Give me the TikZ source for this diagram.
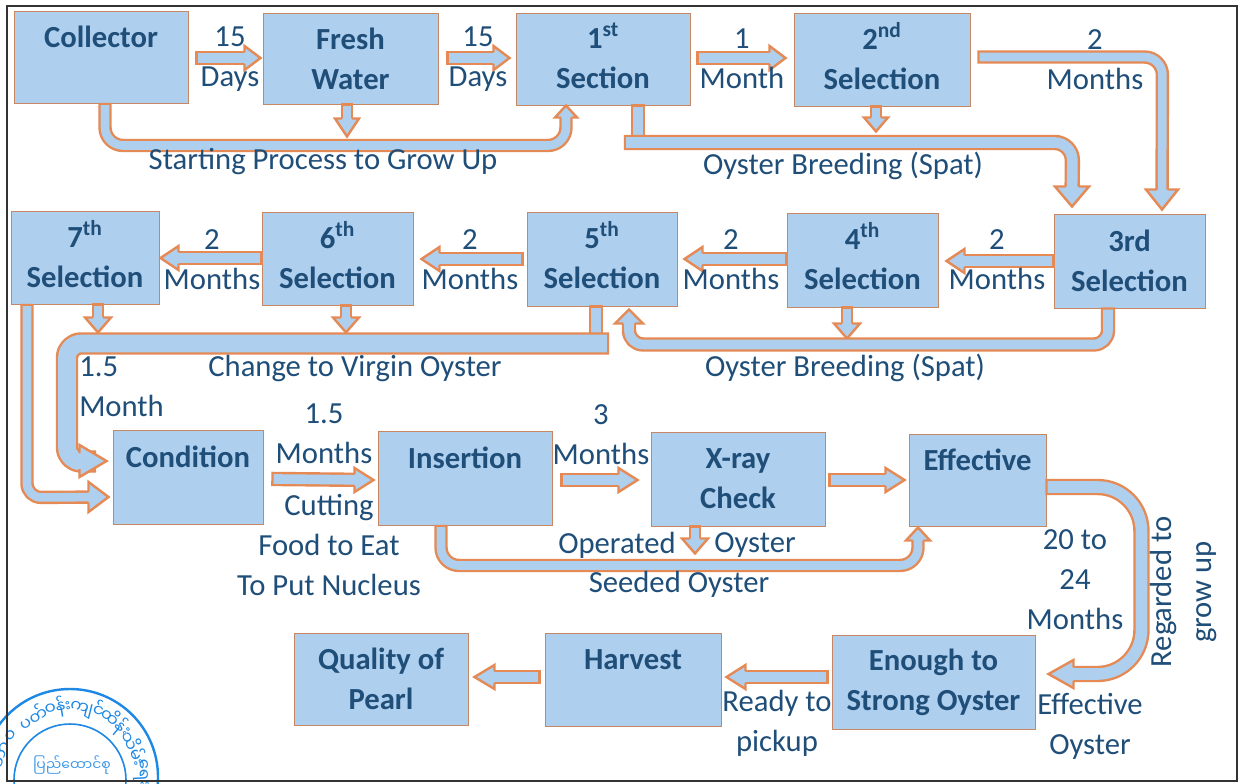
\documentclass[tikz,border=0pt]{standalone}
\usepackage{fontspec}
\setmainfont{Carlito}
\newfontfamily\myan[Script=Myanmar]{Noto Sans Myanmar UI}
\usetikzlibrary{calc}
\definecolor{flowfill}{HTML}{AFCFEE}
\definecolor{flowedge}{HTML}{E58A55}
\definecolor{ink}{HTML}{1F4E79}
\definecolor{stampblue}{HTML}{1E88E5}
\newcommand\ordsup[1]{\smash{\textsuperscript{#1}}}
\tikzset{
  x=0.75pt,y=-0.75pt,
  box/.style={draw=flowedge!70!gray,line width=0.7pt,fill=flowfill,inner sep=0pt,align=center,
    text=ink,font=\fontsize{23}{30}\selectfont\bfseries},
  lbl/.style={text=ink,align=center,inner sep=0pt,yshift=-1.5pt,font=\fontsize{23}{30}\selectfont},
  flowline/.style={draw=flowedge,line width=1.8pt,double=flowfill,double distance={2*#1*0.75pt-1.8pt},line cap=rect,line join=round},
  pics/flowhead/.style n args={3}{code={
    \begin{scope}[sharp corners]
    \fill[flowfill] (0,0)--(-#3,#2)--(-#3,-#2)--cycle;
    \draw[flowedge,line width=1.8pt,line cap=butt,line join=miter] (-#3,#1)--(-#3,#2)--(0,0)--(-#3,-#2)--(-#3,-#1);
    \end{scope}
  }},
}
% half stem, half head, head length, rotation, path up to the last point, tip
\newcommand\flow[6]{%
  \draw[flowline=#1,shorten >={(#3+#1)*0.75pt-1.8pt}] #5 (#6);
  \path (#6) pic[rotate=#4]{flowhead={#1}{#2}{#3}};
}
\begin{document}
\begin{tikzpicture}
\useasboundingbox (0,0) rectangle (1242,783);
\fill[white] (0,0) rectangle (1242,783);

% stamp
\begin{scope}
\clip (0,0) rectangle (1242,783);
\draw[stampblue,line width=1.8pt] (70,777) circle[radius=88];
\draw[stampblue,line width=1.2pt] (70,780) circle[radius=56];
\foreach \t/\a [count=\i] in {ဘာ/162,ဝ/145,ပတ်/122,ဝန်း/100,ကျင်/76,ထိန်း/50,သိမ်း/24,ရေး/3}{
  \node[text=stampblue,inner sep=0pt,rotate=\a-90,font=\myan\fontsize{12.5}{14}\selectfont]
    (ring\i) at ($(70,777)+(\a:71*0.75pt)$) {\t};
}
\node[text=stampblue!85!white,inner sep=0pt,font=\myan\fontsize{10.5}{12}\selectfont] (stampname) at (72,765) {ပြည်ထောင်စု};
\end{scope}

% frame
\draw[black!80,line width=1.6pt] (7,6) rectangle (1237,781);

% boxes
\node[box,minimum width=130.5pt,minimum height=69pt] (collector) at (101,57) {Collector\\~};
\node[box,minimum width=131.25pt,minimum height=68.25pt] (fresh) at (350.5,58.5) {Fresh\\Water};
\node[box,minimum width=130.5pt,minimum height=69pt] (first) at (603,59) {1\ordsup{st}\\Section};
\node[box,minimum width=132pt,minimum height=69.75pt] (second) at (882,59.5) {2\ordsup{nd}\\Selection};
\node[box,minimum width=113.25pt,minimum height=70.5pt] (third) at (1129.5,261) {3rd\\Selection};
\node[box,minimum width=113.25pt,minimum height=70.5pt] (fourth) at (862.5,260) {4\ordsup{th}\\Selection};
\node[box,minimum width=112.5pt,minimum height=70.5pt] (fifth) at (602,259) {5\ordsup{th}\\Selection};
\node[box,minimum width=113.25pt,minimum height=69.75pt] (sixth) at (337.5,258.5) {6\ordsup{th}\\Selection};
\node[box,minimum width=111pt,minimum height=69.75pt] (seventh) at (85,257.5) {7\ordsup{th}\\Selection};
\node[box,minimum width=112.5pt,minimum height=70.5pt] (condition) at (188,477) {Condition\\~};
\node[box,minimum width=130.5pt,minimum height=70.5pt] (insertion) at (465,478) {Insertion\\~};
\node[box,minimum width=130.5pt,minimum height=70.5pt] (xray) at (738,479) {X-ray\\Check};
\node[box,minimum width=102.75pt,minimum height=69pt] (effective) at (977.5,480) {Effective\\~};
\node[box,minimum width=152.25pt,minimum height=70.5pt] (enough) at (933.5,682) {Enough to\\Strong Oyster};
\node[box,minimum width=132pt,minimum height=69.75pt] (harvest) at (633,679.5) {Harvest\\~};
\node[box,minimum width=130.5pt,minimum height=69pt] (quality) at (381,679) {Quality of\\Pearl};

% straight arrows, row 1
\flow{6}{12}{16}{0}{([shift={(14,1)}]collector.east) --}{[shift={(-2,-0.5)}]fresh.west}
\flow{6}{12}{16}{0}{([shift={(15,-0.5)}]fresh.east) --}{[shift={(-6,-1)}]first.west}
\flow{6}{12}{16}{0}{([shift={(13,-1)}]first.east) --}{[shift={(-8,-1.5)}]second.west}
\flow{5}{12}{18}{-90}{([shift={(-3.5,5)}]fresh.south) --}{[shift={(-3.5,32)}]fresh.south}
\flow{5}{12}{14}{-90}{([shift={(-6,5)}]second.south) --}{[shift={(-6,25)}]second.south}

% curved arrows, row 1
\begin{scope}[rounded corners=13.5pt]
\flow{5.5}{11}{12}{90}{([shift={(4,6)}]collector.south) -- ++(0,36) -- ++(461,0) --}{[shift={(-37,0)}]first.south}
\draw[flowline=6] ([shift={(35,6)}]first.south) -- ++(0,24);
\flow{6.5}{17}{20}{-90}{([shift={(28.5,37)}]first.south) -- ++(441,0) --}{[shift={(-57.5,-7)}]third.north}
\flow{5.5}{16}{20}{-90}{([shift={(13.5,-2.5)}]second.east) -- ++(178.5,0) --}{[shift={(32.5,-4)}]third.north}
\end{scope}

% row 2
\flow{6}{12}{18}{180}{([shift={(-6,0)}]third.west) --}{[shift={(8,1)}]fourth.east}
\flow{6}{12}{18}{180}{([shift={(-6,-1)}]fourth.west) --}{[shift={(7,0)}]fifth.east}
\flow{6}{12}{18}{180}{([shift={(-10,0)}]fifth.west) --}{[shift={(8,0.5)}]sixth.east}
\flow{6}{12}{18}{180}{([shift={(-6,-0.5)}]sixth.west) --}{[shift={(1,0.5)}]seventh.east}
\flow{5}{13}{15}{-90}{([shift={(-15.5,5)}]fourth.south) --}{[shift={(-15.5,31)}]fourth.south}
\flow{5}{13}{15}{-90}{([shift={(8.5,5)}]sixth.south) --}{[shift={(8.5,27)}]sixth.south}
\flow{5}{13}{15}{-90}{([shift={(13,5)}]seventh.south) --}{[shift={(13,28)}]seventh.south}

\begin{scope}[rounded corners=10.5pt]
\flow{6}{14}{14}{90}{([shift={(-21.5,6)}]third.south) -- ++(0,30) -- ++(-479,0) --}{[shift={(27,3)}]fifth.south}
\flow{5.5}{15}{20}{0}{([shift={(-58,6)}]seventh.south) -- ++(0,187) --}{[shift={(-4,20)}]condition.west}
\draw[flowline=6] ([shift={(-6,6)}]fifth.south) -- ++(0,22);
\draw[flowline=10] ([shift={(-4,37)}]fifth.south) -- ++(-531,0) -- ++(0,118) -- ++(18,0);
\path ([shift={(-6,-16)}]condition.west) pic[rotate=0]{flowhead={8}{16}{27}};
\end{scope}

% row 3
\flow{6}{12}{19}{0}{([shift={(15,2)}]condition.east) --}{[shift={(-4,2)}]insertion.west}
\flow{6}{12}{19}{0}{([shift={(15,2)}]insertion.east) --}{[shift={(-13,1)}]xray.west}
\flow{6}{12}{19}{0}{([shift={(10,1)}]xray.east) --}{[shift={(-4,0)}]effective.west}
\flow{5}{13}{15}{-90}{([shift={(-43,5)}]xray.south) --}{[shift={(-43,27)}]xray.south}
\begin{scope}[rounded corners=13.5pt]
\flow{5.5}{12}{13}{90}{([shift={(-24,6)}]insertion.south) -- ++(0,34) -- ++(477,0) --}{[shift={(-59.5,1)}]effective.south}
\end{scope}
\begin{scope}[rounded corners=33pt]
\flow{7}{14}{25}{180}{([shift={(7,7)}]effective.east) -- ++(88,0) -- ++(0,187) --}{[shift={(13,-8)}]enough.east}
\end{scope}

% row 4
\flow{6}{12}{19}{180}{([shift={(-10,-5)}]enough.west) --}{[shift={(5,-2.5)}]harvest.east}
\flow{6}{12}{20}{180}{([shift={(-11,-2.5)}]harvest.west) --}{[shift={(6,-2)}]quality.east}

% labels
\node[lbl] (l1) at (230,57) {15\\Days};
\node[lbl] (l2) at (478,57) {15\\Days};
\node[lbl] (l3) at (742,57) {1\\Month};
\node[lbl] (l4) at (1095,58) {2\\Months};
\node[lbl] (l5) at (323,160) {Starting Process to Grow Up};
\node[lbl] (l6) at (843,164) {Oyster Breeding (Spat)};
\node[lbl] (l7) at (997,258) {2\\Months};
\node[lbl] (l8) at (731,258) {2\\Months};
\node[lbl] (l9) at (470,258) {2\\Months};
\node[lbl] (l10) at (212,258) {2\\Months};
\node[lbl] (l11) at (355,366) {Change to Virgin Oyster};
\node[lbl] (l12) at (845,366) {Oyster Breeding (Spat)};
\node[lbl,anchor=west,align=left] (l13) at (79,385) {1.5\\Month};
\node[lbl] (l14) at (324,432) {1.5\\Months};
\node[lbl] (l15) at (329,543) {Cutting\\Food to Eat\\To Put Nucleus};
\node[lbl] (l16) at (601,433) {3\\Months};
\node[lbl] (l17) at (617,543) {Operated};
\node[lbl] (l18) at (755,543) {Oyster};
\node[lbl] (l19) at (679,582) {Seeded Oyster};
\node[lbl] (l20) at (1075,578) {20 to\\24\\Months};
\node[lbl] (l21) at (1090,724) {Effective\\Oyster};
\node[lbl] (l22) at (777,721) {Ready to\\pickup};
\node[lbl,rotate=90,yshift=1.5pt] (l23) at (1185,590) {Regarded to\\grow up};
\end{tikzpicture}
\end{document}
